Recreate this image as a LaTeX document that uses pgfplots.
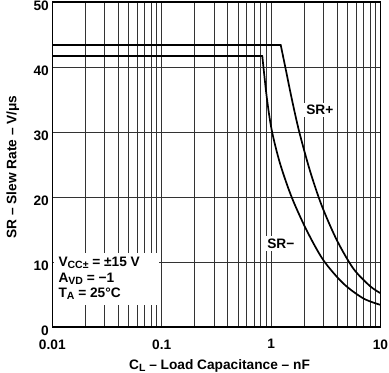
\documentclass[border=0pt]{standalone}
\usepackage{fontspec}
\setmainfont{Liberation Sans}
\usepackage{pgfplots}
\pgfplotsset{compat=1.18}
\newcommand\sub[1]{\raisebox{-0.3ex}{\fontsize{10.5bp}{11bp}\selectfont #1}}
\newcommand\labfont{\fontsize{13.7bp}{16bp}\selectfont\bfseries}
\begin{document}
\begin{tikzpicture}
\begin{axis}[
  scale only axis, width=328.2bp, height=325bp,
  xmode=log, xmin=0.01, xmax=10, ymin=0, ymax=50,
  xtick={0.01,0.1,1,10}, xticklabels={0.01,0.1,1,10},
  minor xtick={0.02,0.03,0.04,0.05,0.06,0.07,0.08,0.09,0.2,0.3,0.4,0.5,0.6,0.7,0.8,0.9,2,3,4,5,6,7,8,9},
  ytick={0,10,20,30,40,50},
  xmajorgrids, xminorgrids, ymajorgrids,
  major grid style={black!80, line width=0.7bp},
  minor grid style={black!80, line width=0.7bp},
  major tick length=0pt, minor tick length=0pt,
  axis line style={line width=1.3bp},
  /pgf/number format/assume math mode=true,
  tick label style={font=\labfont},
  xticklabel style={yshift=-9bp},
  yticklabel style={yshift=-4bp},
  label style={font=\labfont},
  xlabel={C\sub{L} – Load Capacitance – nF},
  ylabel={SR – Slew Rate – V/μs},
  xlabel style={at={(axis description cs:0.5095,-0.1302)}, anchor=base},
  ylabel style={at={(axis description cs:-0.1091,0.492)}, anchor=base, rotate=0},
]
\addplot[black, line width=1.7bp, line cap=round, line join=round] coordinates {(0.01,43.4) (1.224,43.4)};
\addplot[black, line width=1.7bp, line cap=round, smooth, tension=0.5] coordinates {
 (1.224,43.4) (1.34,40.2) (1.55,35.0) (1.81,30.0) (2.27,24.0) (2.90,18.7)
 (3.98,13.4) (5.64,9.0) (8.01,6.3) (10,5.2)};
\addplot[black, line width=1.7bp, line cap=round, line join=round] coordinates {(0.01,41.7) (0.831,41.7)};
\addplot[black, line width=1.7bp, line cap=round, smooth, tension=0.5] coordinates {
 (0.831,41.7) (0.912,35.4) (1.013,30.3) (1.205,25.2) (1.54,20.0) (2.11,14.9)
 (3.0,10.3) (4.57,6.7) (6.97,4.4) (10,3.4)};
\fill[white] (axis cs:0.0103,3.4) rectangle (axis cs:0.0945,11.4);
\node[anchor=base west, font=\labfont, inner sep=0] at (axis cs:0.01135,9.3) {V\sub{CC±} = ±15 V};
\node[anchor=base west, font=\labfont, inner sep=0] at (axis cs:0.01135,6.92) {A\sub{VD} = −1};
\node[anchor=base west, font=\labfont, inner sep=0] at (axis cs:0.01135,4.54) {T\sub{A} = 25°C};
\node[fill=white, font=\labfont, inner sep=2.5bp] at (axis cs:2.79,33.4) {SR+};
\node[fill=white, font=\labfont, inner sep=2.5bp] at (axis cs:1.226,12.85) {SR−};
\end{axis}
\pgfresetboundingbox
\path (current axis.south west) ++(-52.3bp,-46bp) rectangle ([shift={(8.5bp,2bp)}]current axis.north east);
\end{tikzpicture}
\end{document}
